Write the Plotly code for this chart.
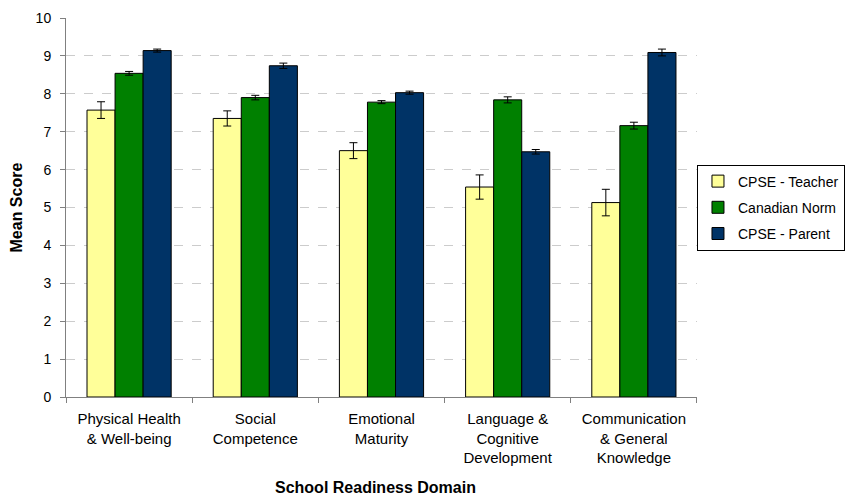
import plotly.graph_objects as go

categories = ["Physical Health<br>& Well-being", "Social<br>Competence", "Emotional<br>Maturity",
              "Language &<br>Cognitive<br>Development", "Communication<br>& General<br>Knowledge"]
series_names = ["CPSE - Teacher", "Canadian Norm", "CPSE - Parent"]
teacher = [7.57, 7.35, 6.50, 5.54, 5.13]
teacher_err = [0.22, 0.20, 0.21, 0.32, 0.35]
norm = [8.54, 7.90, 7.78, 7.84, 7.16]
norm_err = [0.05, 0.06, 0.04, 0.08, 0.09]
parent = [9.14, 8.74, 8.03, 6.47, 9.09]
parent_err = [0.04, 0.07, 0.04, 0.06, 0.09]
colors = ["#FFFF99", "#008000", "#003366"]

fig = go.Figure()
for i, (name, vals, errs) in enumerate(zip(series_names, [teacher, norm, parent],
                                          [teacher_err, norm_err, parent_err])):
    fig.add_trace(go.Bar(
        x=categories, y=vals, name=name, legendgroup=name,
        marker=dict(color=colors[i], line=dict(color="black", width=1)),
        error_y=dict(type="data", array=errs, visible=True, color="black", thickness=1, width=4),
    ))

font_family = "Arial, Liberation Sans, sans-serif"
# page body has an 8px default margin, so the figure is sized to fit the window
fig.update_layout(
    width=846, height=489,
    margin=dict(l=58, r=157, t=10, b=100),
    paper_bgcolor="white", plot_bgcolor="white",
    barmode="group", bargap=0.333, bargroupgap=0,
    font=dict(family=font_family, size=15, color="black"),
    showlegend=True,
    legend=dict(xref="container", yref="container", x=0.8144, y=0.592,
                xanchor="left", yanchor="middle",
                bordercolor="black", borderwidth=1, font=dict(size=14),
                traceorder="grouped", tracegroupgap=5, itemwidth=30),
    xaxis=dict(showline=True, linecolor="#808080", linewidth=1, automargin=False,
               ticks="outside", tickson="boundaries", ticklen=5, tickcolor="#808080",
               tickfont=dict(size=15), ticklabelstandoff=8),
    yaxis=dict(range=[0, 10], dtick=1, showline=True, linecolor="#808080", linewidth=1,
               automargin=False,
               ticks="outside", ticklen=5, tickcolor="#808080",
               showgrid=True, gridcolor="#cccccc", griddash="dash", gridwidth=1,
               zeroline=False, tickfont=dict(size=14), ticklabelstandoff=6),
    annotations=[
        dict(text="<b>School Readiness Domain</b>", xref="paper", yref="paper",
             x=0.49, y=-0.238, xanchor="center", yanchor="middle", showarrow=False,
             font=dict(size=16)),
        dict(text="<b>Mean Score</b>", xref="paper", yref="paper",
             x=-0.0777, y=0.5, xanchor="center", yanchor="middle", showarrow=False,
             textangle=-90, font=dict(size=16)),
    ],
)

fig.write_html("out.html")
